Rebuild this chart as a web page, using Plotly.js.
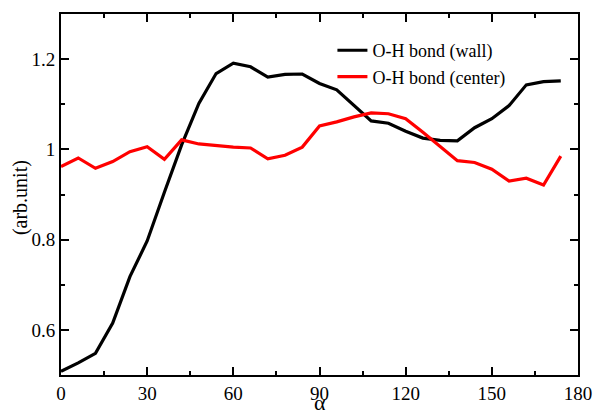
<!DOCTYPE html>
<html>
<head>
<meta charset="utf-8">
<script src="https://cdn.plot.ly/plotly-3.0.1.min.js"></script>
<style>html,body{margin:0;padding:0;background:#fff;}#chart{width:594px;height:416px;}</style>
</head>
<body>
<div id="chart"></div>
<script>
const alpha = [0, 6, 12, 18, 24, 30, 36, 42, 48, 54, 60, 66, 72, 78, 84, 90, 96, 102, 108, 114, 120, 126, 132, 138, 144, 150, 156, 162, 168, 174];
const wallOH = [0.508, 0.527, 0.548, 0.615, 0.718, 0.797, 0.905, 1.010, 1.102, 1.168, 1.191, 1.183, 1.160, 1.166, 1.167, 1.146, 1.132, 1.098, 1.063, 1.058, 1.040, 1.025, 1.020, 1.019, 1.048, 1.068, 1.097, 1.143, 1.150, 1.152];
const centerOH = [0.962, 0.981, 0.958, 0.973, 0.995, 1.006, 0.978, 1.021, 1.012, 1.008, 1.005, 1.003, 0.979, 0.987, 1.005, 1.052, 1.061, 1.072, 1.081, 1.079, 1.068, 1.038, 1.006, 0.975, 0.971, 0.956, 0.930, 0.936, 0.921, 0.985];
const seriesNames = ["O-H bond (wall)", "O-H bond (center)"];
const xTitle = "α";
const yTitle = "(arb.unit)";
const xTickVals = [0, 30, 60, 90, 120, 150, 180];
const xTickText = ["0", "30", "60", "90", "120", "150", "180"];
const yTickVals = [0.6, 0.8, 1.0, 1.2];
const yTickText = ["0.6", "0.8", "1", "1.2"];

const font = "Liberation Serif, Times New Roman, serif";
const traces = [
  {x: alpha, y: wallOH, name: seriesNames[0], mode: "lines", line: {color: "#000000", width: 3.2}},
  {x: alpha, y: centerOH, name: seriesNames[1], mode: "lines", line: {color: "#ff0000", width: 3.2}}
];
const axisCommon = {
  showline: true, linewidth: 2, linecolor: "#000", mirror: "ticks",
  ticks: "inside", ticklen: 8, tickwidth: 2, tickcolor: "#000",
  showgrid: false, zeroline: false,
  tickfont: {family: font, size: 19, color: "#000"}
};
const layout = {
  width: 594, height: 416,
  margin: {l: 61, r: 16, t: 14, b: 41},
  paper_bgcolor: "#fff", plot_bgcolor: "#fff",
  showlegend: true,
  legend: {x: 0.525, y: 0.95, xanchor: "left", yanchor: "top", bgcolor: "rgba(0,0,0,0)",
           font: {family: font, size: 18, color: "#000"}, tracegroupgap: 0, itemwidth: 30},
  xaxis: Object.assign({}, axisCommon, {
    range: [0, 180], tickvals: xTickVals, ticktext: xTickText,
    minor: {ticks: "inside", ticklen: 4, tickwidth: 2, tickcolor: "#000", dtick: 15, tick0: 0}
  }),
  yaxis: Object.assign({}, axisCommon, {
    range: [0.5, 1.3], tickvals: yTickVals, ticktext: yTickText,
    minor: {ticks: "inside", ticklen: 4, tickwidth: 2, tickcolor: "#000", dtick: 0.1, tick0: 0.5}
  }),
  annotations: [
    {text: xTitle, xref: "paper", yref: "paper", x: 0.5, y: -0.113, xanchor: "center", yanchor: "bottom",
     showarrow: false, borderpad: 0, font: {family: font, size: 22, color: "#000"}},
    {text: yTitle, xref: "paper", yref: "paper", x: -0.0793, y: 0.49, xanchor: "center", yanchor: "middle",
     textangle: -90, showarrow: false, font: {family: font, size: 20, color: "#000"}}
  ]
};
Plotly.newPlot("chart", traces, layout, {displayModeBar: false, staticPlot: true});
</script>
</body>
</html>
